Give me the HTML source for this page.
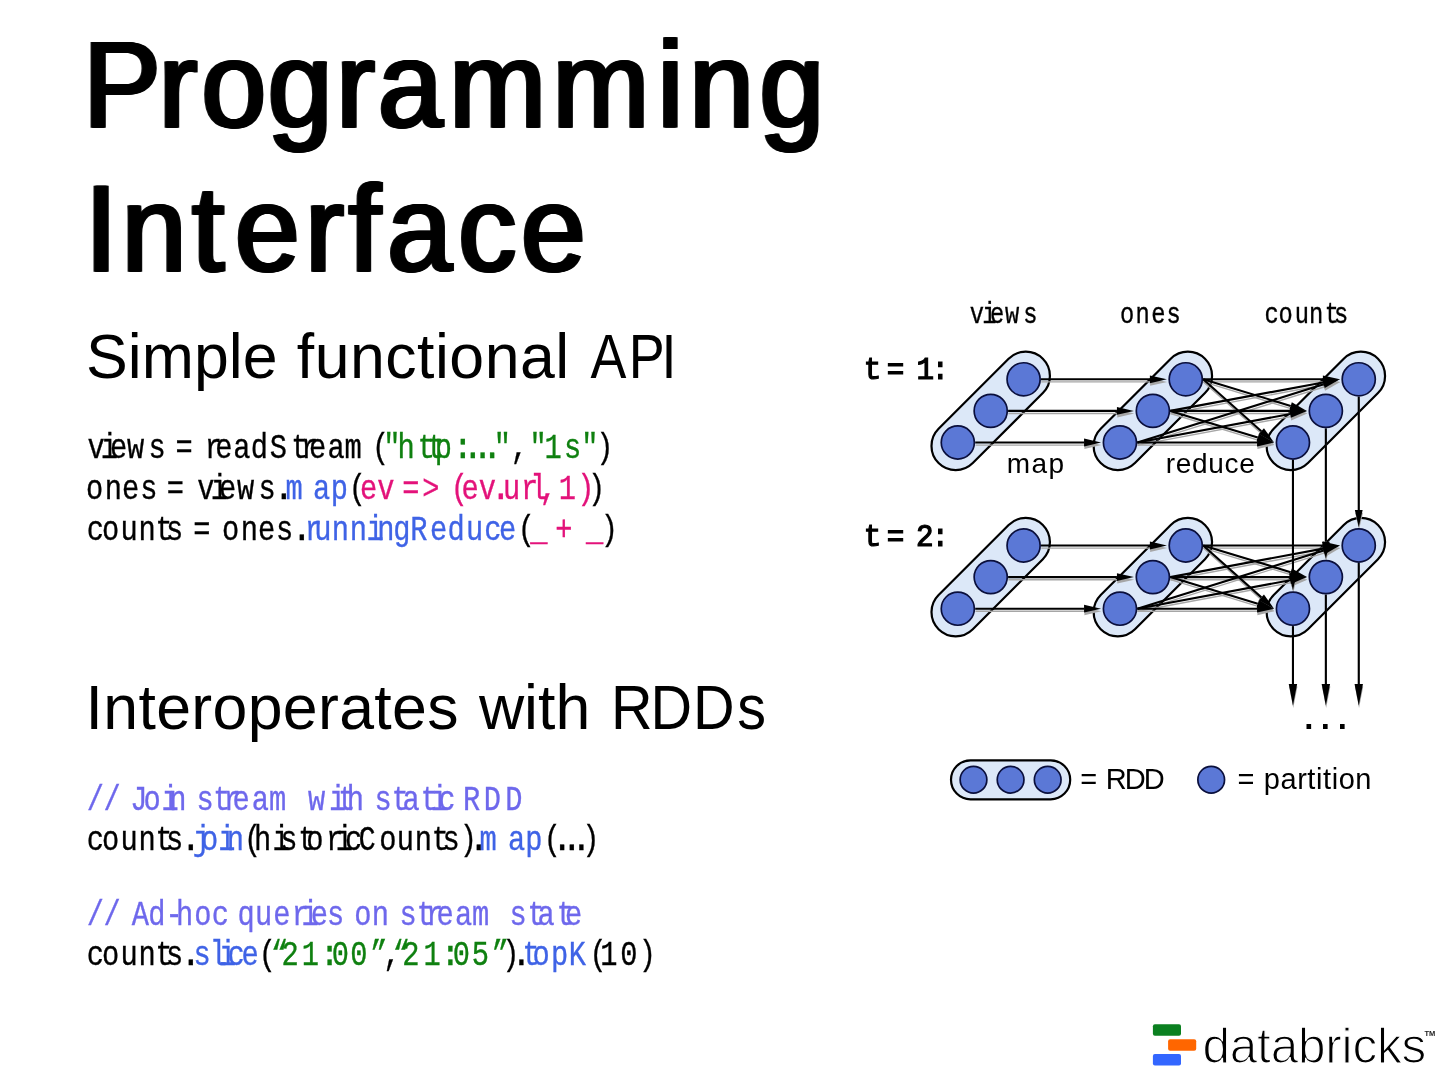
<!DOCTYPE html>
<html lang="en">
<head>
<meta charset="utf-8">
<title>Programming Interface</title>
<style>
html,body{margin:0;padding:0;background:#fff;}
body{width:1440px;height:1080px;overflow:hidden;position:relative;font-family:"Liberation Sans",sans-serif;}
svg{position:absolute;left:0;top:0;display:block;will-change:transform;transform:translateZ(0);}
text{white-space:pre;}
.ttl{filter:drop-shadow(1.2px 0 0 #000) drop-shadow(-1.2px 0 0 #000);}
</style>
</head>
<body>
<svg width="1440" height="1080" viewBox="0 0 1440 1080">
<text class="ttl" transform="scale(0.95,1)" x="88.07 167.62 212.70 282.44 354.46 398.39 473.40 582.09 692.56 726.04 800.00" y="127.3" font-size="122.3" stroke="#000" stroke-width="1.5" font-family="'Liberation Sans',sans-serif">Programming</text>
<text class="ttl" transform="scale(0.95,1)" x="89.98 128.67 202.66 247.95 321.83 367.32 408.13 482.91 549.01" y="271.3" font-size="122.3" stroke="#000" stroke-width="1.5" font-family="'Liberation Sans',sans-serif">Interface</text>
<text xml:space="preserve" x="86.06 127.83 141.75 193.91 228.74 242.67 277.50 296.81 314.69 350.00 385.30 417.09 434.97 449.37 484.67 519.98 555.28" y="378.1" font-size="62.6" fill="#000" font-family="'Liberation Sans',sans-serif">Simple functional</text>
<text transform="scale(0.86,1)" x="686.62 731.26 769.22" y="378.1" font-size="62.6" fill="#000" font-family="'Liberation Sans',sans-serif">API</text>
<text xml:space="preserve" x="85.62 103.35 138.49 156.21 191.36 212.54 247.68 282.83 317.97 339.15 374.29 392.02 427.16 458.79 478.89 524.12 538.04 555.45" y="729.4" font-size="62.6" fill="#000" font-family="'Liberation Sans',sans-serif">Interoperates with</text>
<text transform="scale(0.92,1)" x="664.10 707.04 753.23 801.41" y="729.4" font-size="62.6" fill="#000" font-family="'Liberation Sans',sans-serif">RDDs</text>
<text xml:space="preserve" transform="scale(0.82,1)" y="458.0" font-size="35.0" stroke-width="0.35" font-family="'Liberation Mono',monospace"><tspan x="106.67 122.85 134.16 154.99 181.23 200.98 214.05 237.13 249.76 262.57 284.61 305.78 329.06 355.27 367.08 376.96 399.49 420.26 453.74" fill="#000" stroke="#000">views = readStream(</tspan><tspan x="467.44 484.87 509.54 521.37 530.08" fill="#0f8010" stroke="#0f8010">"http</tspan><tspan x="554.11 566.31 578.14 589.72" fill="#0f8010" stroke="#0f8010" font-weight="bold">:...</tspan><tspan x="602.20" fill="#0f8010" stroke="#0f8010">"</tspan><tspan x="622.82 633.80" fill="#000" stroke="#000">, </tspan><tspan x="645.85 663.98 687.94 708.90" fill="#0f8010" stroke="#0f8010">"1s"</tspan><tspan x="727.12" fill="#000" stroke="#000">)</tspan></text>
<text xml:space="preserve" transform="scale(0.82,1)" y="498.9" font-size="35.0" stroke-width="0.35" font-family="'Liberation Mono',monospace"><tspan x="104.73 127.64 148.79 171.11 190.86 203.44 226.52 240.45 256.99 267.21 288.89 315.37" fill="#000" stroke="#000">ones = views</tspan><tspan x="335.70" fill="#000" stroke="#000" font-weight="bold">.</tspan><tspan x="348.19 381.81 403.25" fill="#3f63e6" stroke="#3f63e6">map</tspan><tspan x="425.20" fill="#000" stroke="#000">(</tspan><tspan x="439.04 459.96 479.72 490.52 514.91 537.98 549.59 562.94 583.99" fill="#e3127a" stroke="#e3127a">ev =&gt; (ev</tspan><tspan x="600.33" fill="#e3127a" stroke="#e3127a" font-weight="bold">.</tspan><tspan x="613.28 635.37 646.71 658.31 669.29 681.54 703.83" fill="#e3127a" stroke="#e3127a">url, 1)</tspan><tspan x="717.00" fill="#000" stroke="#000">)</tspan></text>
<text xml:space="preserve" transform="scale(0.82,1)" y="539.8000000000001" font-size="35.0" stroke-width="0.35" font-family="'Liberation Mono',monospace"><tspan x="105.71 124.49 147.06 168.86 189.66 202.57 222.33 235.64 258.71 270.83 293.49 314.65 336.72" fill="#000" stroke="#000">counts = ones</tspan><tspan x="357.65" fill="#000" stroke="#000" font-weight="bold">.</tspan><tspan x="371.71 383.28 404.71 426.66 446.99 460.20 479.47 500.46 524.40 545.66 568.16 590.46 608.67" fill="#3f63e6" stroke="#3f63e6">runningReduce</tspan><tspan x="631.55" fill="#000" stroke="#000">(</tspan><tspan x="646.64 668.62 677.10 700.18 714.69" fill="#e3127a" stroke="#e3127a">_ + _</tspan><tspan x="732.61" fill="#000" stroke="#000">)</tspan></text>
<text xml:space="preserve" transform="scale(0.82,1)" y="809.9000000000001" font-size="35.0" stroke-width="0.35" font-family="'Liberation Mono',monospace"><tspan x="105.88 126.25 137.23 158.82 174.86 196.99 206.54 228.52 239.64 260.15 272.56 283.55 306.93 328.19 361.10 375.47 401.26 412.59 422.92 444.89 456.72 477.71 490.95 513.20 525.29 534.61 554.37 564.49 589.85 616.32" fill="#6e68ec" stroke="#6e68ec">// Join stream with static RDD</tspan></text>
<text xml:space="preserve" transform="scale(0.82,1)" y="849.9000000000001" font-size="35.0" stroke-width="0.35" font-family="'Liberation Mono',monospace"><tspan x="105.71 124.49 147.06 168.86 189.66 202.57" fill="#000" stroke="#000">counts</tspan><tspan x="222.29" fill="#000" stroke="#000" font-weight="bold">.</tspan><tspan x="235.10 244.98 266.14 276.66" fill="#3f63e6" stroke="#3f63e6">join</tspan><tspan x="297.64 309.62 332.24 341.84 363.81 373.64 397.56 409.43 420.83 437.31 462.42 483.89 505.69 526.49 539.64 560.54" fill="#000" stroke="#000">(historicCounts)</tspan><tspan x="573.50" fill="#000" stroke="#000" font-weight="bold">.</tspan><tspan x="584.89 619.37 640.44" fill="#3f63e6" stroke="#3f63e6">map</tspan><tspan x="663.01" fill="#000" stroke="#000">(</tspan><tspan x="675.09 686.92 698.50" fill="#000" stroke="#000" font-weight="bold">...</tspan><tspan x="709.93" fill="#000" stroke="#000">)</tspan></text>
<text xml:space="preserve" transform="scale(0.82,1)" y="925.0" font-size="35.0" stroke-width="0.35" font-family="'Liberation Mono',monospace"><tspan x="105.88 126.25 137.23 160.82 180.78 201.84 214.50 236.81 258.15 277.90 289.56 311.09 333.30 355.86 367.73 379.04 398.79 418.55 431.93 453.49 475.47 487.20 508.20 519.52 532.45 554.98 575.75 608.66 621.35 643.32 655.59 678.93 689.04" fill="#6e68ec" stroke="#6e68ec">// Ad-hoc queries on stream state</tspan></text>
<text xml:space="preserve" transform="scale(0.82,1)" y="965.5" font-size="35.0" stroke-width="0.35" font-family="'Liberation Mono',monospace"><tspan x="105.71 124.49 147.06 168.86 189.66 202.57" fill="#000" stroke="#000">counts</tspan><tspan x="222.29" fill="#000" stroke="#000" font-weight="bold">.</tspan><tspan x="236.11 255.85 267.12 277.54 294.65" fill="#3f63e6" stroke="#3f63e6">slice</tspan><tspan x="315.45" fill="#000" stroke="#000">(</tspan><tspan x="330.44 343.25 368.06" fill="#0f8010" stroke="#0f8010">“21</tspan><tspan x="391.55" fill="#0f8010" stroke="#0f8010" font-weight="bold">:</tspan><tspan x="404.58 427.02 451.42" fill="#0f8010" stroke="#0f8010">00”</tspan><tspan x="467.34" fill="#000" stroke="#000">,</tspan><tspan x="478.86 490.69 516.42" fill="#0f8010" stroke="#0f8010">“21</tspan><tspan x="538.87" fill="#0f8010" stroke="#0f8010" font-weight="bold">:</tspan><tspan x="552.02 575.22 599.83" fill="#0f8010" stroke="#0f8010">05”</tspan><tspan x="612.37" fill="#000" stroke="#000">)</tspan><tspan x="625.33" fill="#000" stroke="#000" font-weight="bold">.</tspan><tspan x="637.22 649.49 671.91 693.51" fill="#3f63e6" stroke="#3f63e6">topK</tspan><tspan x="718.99 731.90 756.28 778.95" fill="#000" stroke="#000">(10)</tspan></text>
<g>
<rect x="-73.72" y="-24.20" width="147.44" height="48.40" rx="24.20" transform="translate(990.70,410.90) rotate(135.00)" fill="#dce8f8" stroke="#000" stroke-width="2.2"/>
<rect x="-73.72" y="-24.20" width="147.44" height="48.40" rx="24.20" transform="translate(1152.85,410.90) rotate(135.00)" fill="#dce8f8" stroke="#000" stroke-width="2.2"/>
<rect x="-73.72" y="-24.20" width="147.44" height="48.40" rx="24.20" transform="translate(1325.85,410.90) rotate(135.00)" fill="#dce8f8" stroke="#000" stroke-width="2.2"/>
<rect x="-73.72" y="-24.20" width="147.44" height="48.40" rx="24.20" transform="translate(990.70,577.10) rotate(135.00)" fill="#dce8f8" stroke="#000" stroke-width="2.2"/>
<rect x="-73.72" y="-24.20" width="147.44" height="48.40" rx="24.20" transform="translate(1152.85,577.10) rotate(135.00)" fill="#dce8f8" stroke="#000" stroke-width="2.2"/>
<rect x="-73.72" y="-24.20" width="147.44" height="48.40" rx="24.20" transform="translate(1325.85,577.10) rotate(135.00)" fill="#dce8f8" stroke="#000" stroke-width="2.2"/>
<line x1="1041.30" y1="381.90" x2="1150.15" y2="381.90" stroke="#a6a6a6" stroke-width="1.4"/><polygon points="1167.15,381.90 1150.15,385.80 1150.15,378.00" fill="#a6a6a6"/>
<line x1="1008.40" y1="413.50" x2="1117.25" y2="413.50" stroke="#a6a6a6" stroke-width="1.4"/><polygon points="1134.25,413.50 1117.25,417.40 1117.25,409.60" fill="#a6a6a6"/>
<line x1="975.50" y1="445.10" x2="1084.35" y2="445.10" stroke="#a6a6a6" stroke-width="1.4"/><polygon points="1101.35,445.10 1084.35,449.00 1084.35,441.20" fill="#a6a6a6"/>
<line x1="1203.45" y1="381.90" x2="1323.15" y2="381.90" stroke="#a6a6a6" stroke-width="1.4"/><polygon points="1340.15,381.90 1323.15,385.80 1323.15,378.00" fill="#a6a6a6"/>
<line x1="1203.45" y1="381.90" x2="1290.99" y2="408.55" stroke="#a6a6a6" stroke-width="1.4"/><polygon points="1307.25,413.50 1289.85,412.28 1292.12,404.82" fill="#a6a6a6"/>
<line x1="1203.45" y1="381.90" x2="1261.66" y2="433.79" stroke="#a6a6a6" stroke-width="1.4"/><polygon points="1274.35,445.10 1259.06,436.70 1264.25,430.88" fill="#a6a6a6"/>
<line x1="1170.55" y1="413.50" x2="1323.44" y2="385.01" stroke="#a6a6a6" stroke-width="1.4"/><polygon points="1340.15,381.90 1324.15,388.85 1322.72,381.18" fill="#a6a6a6"/>
<line x1="1170.55" y1="413.50" x2="1290.25" y2="413.50" stroke="#a6a6a6" stroke-width="1.4"/><polygon points="1307.25,413.50 1290.25,417.40 1290.25,409.60" fill="#a6a6a6"/>
<line x1="1170.55" y1="413.50" x2="1258.09" y2="440.15" stroke="#a6a6a6" stroke-width="1.4"/><polygon points="1274.35,445.10 1256.95,443.88 1259.22,436.42" fill="#a6a6a6"/>
<line x1="1137.65" y1="445.10" x2="1323.92" y2="386.96" stroke="#a6a6a6" stroke-width="1.4"/><polygon points="1340.15,381.90 1325.08,390.69 1322.76,383.24" fill="#a6a6a6"/>
<line x1="1137.65" y1="445.10" x2="1290.54" y2="416.61" stroke="#a6a6a6" stroke-width="1.4"/><polygon points="1307.25,413.50 1291.25,420.45 1289.82,412.78" fill="#a6a6a6"/>
<line x1="1137.65" y1="445.10" x2="1257.35" y2="445.10" stroke="#a6a6a6" stroke-width="1.4"/><polygon points="1274.35,445.10 1257.35,449.00 1257.35,441.20" fill="#a6a6a6"/>
<line x1="1041.30" y1="548.10" x2="1150.15" y2="548.10" stroke="#a6a6a6" stroke-width="1.4"/><polygon points="1167.15,548.10 1150.15,552.00 1150.15,544.20" fill="#a6a6a6"/>
<line x1="1008.40" y1="579.70" x2="1117.25" y2="579.70" stroke="#a6a6a6" stroke-width="1.4"/><polygon points="1134.25,579.70 1117.25,583.60 1117.25,575.80" fill="#a6a6a6"/>
<line x1="975.50" y1="611.30" x2="1084.35" y2="611.30" stroke="#a6a6a6" stroke-width="1.4"/><polygon points="1101.35,611.30 1084.35,615.20 1084.35,607.40" fill="#a6a6a6"/>
<line x1="1203.45" y1="548.10" x2="1323.15" y2="548.10" stroke="#a6a6a6" stroke-width="1.4"/><polygon points="1340.15,548.10 1323.15,552.00 1323.15,544.20" fill="#a6a6a6"/>
<line x1="1203.45" y1="548.10" x2="1290.99" y2="574.75" stroke="#a6a6a6" stroke-width="1.4"/><polygon points="1307.25,579.70 1289.85,578.48 1292.12,571.02" fill="#a6a6a6"/>
<line x1="1203.45" y1="548.10" x2="1261.66" y2="599.99" stroke="#a6a6a6" stroke-width="1.4"/><polygon points="1274.35,611.30 1259.06,602.90 1264.25,597.08" fill="#a6a6a6"/>
<line x1="1170.55" y1="579.70" x2="1323.44" y2="551.21" stroke="#a6a6a6" stroke-width="1.4"/><polygon points="1340.15,548.10 1324.15,555.05 1322.72,547.38" fill="#a6a6a6"/>
<line x1="1170.55" y1="579.70" x2="1290.25" y2="579.70" stroke="#a6a6a6" stroke-width="1.4"/><polygon points="1307.25,579.70 1290.25,583.60 1290.25,575.80" fill="#a6a6a6"/>
<line x1="1170.55" y1="579.70" x2="1258.09" y2="606.35" stroke="#a6a6a6" stroke-width="1.4"/><polygon points="1274.35,611.30 1256.95,610.08 1259.22,602.62" fill="#a6a6a6"/>
<line x1="1137.65" y1="611.30" x2="1323.92" y2="553.16" stroke="#a6a6a6" stroke-width="1.4"/><polygon points="1340.15,548.10 1325.08,556.89 1322.76,549.44" fill="#a6a6a6"/>
<line x1="1137.65" y1="611.30" x2="1290.54" y2="582.81" stroke="#a6a6a6" stroke-width="1.4"/><polygon points="1307.25,579.70 1291.25,586.65 1289.82,578.98" fill="#a6a6a6"/>
<line x1="1137.65" y1="611.30" x2="1257.35" y2="611.30" stroke="#a6a6a6" stroke-width="1.4"/><polygon points="1274.35,611.30 1257.35,615.20 1257.35,607.40" fill="#a6a6a6"/>
<line x1="1359.05" y1="399.30" x2="1359.05" y2="512.70" stroke="#a6a6a6" stroke-width="1.4"/><polygon points="1359.05,529.70 1355.15,512.70 1362.95,512.70" fill="#a6a6a6"/>
<line x1="1359.05" y1="565.50" x2="1359.05" y2="686.60" stroke="#a6a6a6" stroke-width="1.4"/><polygon points="1359.05,708.10 1354.85,686.60 1363.25,686.60" fill="#a6a6a6"/>
<line x1="1326.15" y1="430.90" x2="1326.15" y2="544.30" stroke="#a6a6a6" stroke-width="1.4"/><polygon points="1326.15,561.30 1322.25,544.30 1330.05,544.30" fill="#a6a6a6"/>
<line x1="1326.15" y1="597.10" x2="1326.15" y2="686.60" stroke="#a6a6a6" stroke-width="1.4"/><polygon points="1326.15,708.10 1321.95,686.60 1330.35,686.60" fill="#a6a6a6"/>
<line x1="1293.25" y1="462.50" x2="1293.25" y2="575.90" stroke="#a6a6a6" stroke-width="1.4"/><polygon points="1293.25,592.90 1289.35,575.90 1297.15,575.90" fill="#a6a6a6"/>
<line x1="1293.25" y1="628.70" x2="1293.25" y2="686.60" stroke="#a6a6a6" stroke-width="1.4"/><polygon points="1293.25,708.10 1289.05,686.60 1297.45,686.60" fill="#a6a6a6"/>
<line x1="1041.00" y1="379.30" x2="1149.85" y2="379.30" stroke="#000" stroke-width="2.1"/><polygon points="1166.85,379.30 1149.85,383.20 1149.85,375.40" fill="#000"/>
<line x1="1008.10" y1="410.90" x2="1116.95" y2="410.90" stroke="#000" stroke-width="2.1"/><polygon points="1133.95,410.90 1116.95,414.80 1116.95,407.00" fill="#000"/>
<line x1="975.20" y1="442.50" x2="1084.05" y2="442.50" stroke="#000" stroke-width="2.1"/><polygon points="1101.05,442.50 1084.05,446.40 1084.05,438.60" fill="#000"/>
<line x1="1203.15" y1="379.30" x2="1322.85" y2="379.30" stroke="#000" stroke-width="2.1"/><polygon points="1339.85,379.30 1322.85,383.20 1322.85,375.40" fill="#000"/>
<line x1="1203.15" y1="379.30" x2="1290.69" y2="405.95" stroke="#000" stroke-width="2.1"/><polygon points="1306.95,410.90 1289.55,409.68 1291.82,402.22" fill="#000"/>
<line x1="1203.15" y1="379.30" x2="1261.36" y2="431.19" stroke="#000" stroke-width="2.1"/><polygon points="1274.05,442.50 1258.76,434.10 1263.95,428.28" fill="#000"/>
<line x1="1170.25" y1="410.90" x2="1323.14" y2="382.41" stroke="#000" stroke-width="2.1"/><polygon points="1339.85,379.30 1323.85,386.25 1322.42,378.58" fill="#000"/>
<line x1="1170.25" y1="410.90" x2="1289.95" y2="410.90" stroke="#000" stroke-width="2.1"/><polygon points="1306.95,410.90 1289.95,414.80 1289.95,407.00" fill="#000"/>
<line x1="1170.25" y1="410.90" x2="1257.79" y2="437.55" stroke="#000" stroke-width="2.1"/><polygon points="1274.05,442.50 1256.65,441.28 1258.92,433.82" fill="#000"/>
<line x1="1137.35" y1="442.50" x2="1323.62" y2="384.36" stroke="#000" stroke-width="2.1"/><polygon points="1339.85,379.30 1324.78,388.09 1322.46,380.64" fill="#000"/>
<line x1="1137.35" y1="442.50" x2="1290.24" y2="414.01" stroke="#000" stroke-width="2.1"/><polygon points="1306.95,410.90 1290.95,417.85 1289.52,410.18" fill="#000"/>
<line x1="1137.35" y1="442.50" x2="1257.05" y2="442.50" stroke="#000" stroke-width="2.1"/><polygon points="1274.05,442.50 1257.05,446.40 1257.05,438.60" fill="#000"/>
<line x1="1041.00" y1="545.50" x2="1149.85" y2="545.50" stroke="#000" stroke-width="2.1"/><polygon points="1166.85,545.50 1149.85,549.40 1149.85,541.60" fill="#000"/>
<line x1="1008.10" y1="577.10" x2="1116.95" y2="577.10" stroke="#000" stroke-width="2.1"/><polygon points="1133.95,577.10 1116.95,581.00 1116.95,573.20" fill="#000"/>
<line x1="975.20" y1="608.70" x2="1084.05" y2="608.70" stroke="#000" stroke-width="2.1"/><polygon points="1101.05,608.70 1084.05,612.60 1084.05,604.80" fill="#000"/>
<line x1="1203.15" y1="545.50" x2="1322.85" y2="545.50" stroke="#000" stroke-width="2.1"/><polygon points="1339.85,545.50 1322.85,549.40 1322.85,541.60" fill="#000"/>
<line x1="1203.15" y1="545.50" x2="1290.69" y2="572.15" stroke="#000" stroke-width="2.1"/><polygon points="1306.95,577.10 1289.55,575.88 1291.82,568.42" fill="#000"/>
<line x1="1203.15" y1="545.50" x2="1261.36" y2="597.39" stroke="#000" stroke-width="2.1"/><polygon points="1274.05,608.70 1258.76,600.30 1263.95,594.48" fill="#000"/>
<line x1="1170.25" y1="577.10" x2="1323.14" y2="548.61" stroke="#000" stroke-width="2.1"/><polygon points="1339.85,545.50 1323.85,552.45 1322.42,544.78" fill="#000"/>
<line x1="1170.25" y1="577.10" x2="1289.95" y2="577.10" stroke="#000" stroke-width="2.1"/><polygon points="1306.95,577.10 1289.95,581.00 1289.95,573.20" fill="#000"/>
<line x1="1170.25" y1="577.10" x2="1257.79" y2="603.75" stroke="#000" stroke-width="2.1"/><polygon points="1274.05,608.70 1256.65,607.48 1258.92,600.02" fill="#000"/>
<line x1="1137.35" y1="608.70" x2="1323.62" y2="550.56" stroke="#000" stroke-width="2.1"/><polygon points="1339.85,545.50 1324.78,554.29 1322.46,546.84" fill="#000"/>
<line x1="1137.35" y1="608.70" x2="1290.24" y2="580.21" stroke="#000" stroke-width="2.1"/><polygon points="1306.95,577.10 1290.95,584.05 1289.52,576.38" fill="#000"/>
<line x1="1137.35" y1="608.70" x2="1257.05" y2="608.70" stroke="#000" stroke-width="2.1"/><polygon points="1274.05,608.70 1257.05,612.60 1257.05,604.80" fill="#000"/>
<line x1="1358.75" y1="396.70" x2="1358.75" y2="510.10" stroke="#000" stroke-width="2.1"/><polygon points="1358.75,527.10 1354.85,510.10 1362.65,510.10" fill="#000"/>
<line x1="1358.75" y1="562.90" x2="1358.75" y2="684.00" stroke="#000" stroke-width="2.1"/><polygon points="1358.75,705.50 1354.55,684.00 1362.95,684.00" fill="#000"/>
<line x1="1325.85" y1="428.30" x2="1325.85" y2="541.70" stroke="#000" stroke-width="2.1"/><polygon points="1325.85,558.70 1321.95,541.70 1329.75,541.70" fill="#000"/>
<line x1="1325.85" y1="594.50" x2="1325.85" y2="684.00" stroke="#000" stroke-width="2.1"/><polygon points="1325.85,705.50 1321.65,684.00 1330.05,684.00" fill="#000"/>
<line x1="1292.95" y1="459.90" x2="1292.95" y2="573.30" stroke="#000" stroke-width="2.1"/><polygon points="1292.95,590.30 1289.05,573.30 1296.85,573.30" fill="#000"/>
<line x1="1292.95" y1="626.10" x2="1292.95" y2="684.00" stroke="#000" stroke-width="2.1"/><polygon points="1292.95,705.50 1288.75,684.00 1297.15,684.00" fill="#000"/>
<circle cx="1023.60" cy="379.30" r="16.55" fill="#5b78d6" stroke="#0a0f3c" stroke-width="1.7"/>
<circle cx="990.70" cy="410.90" r="16.55" fill="#5b78d6" stroke="#0a0f3c" stroke-width="1.7"/>
<circle cx="957.80" cy="442.50" r="16.55" fill="#5b78d6" stroke="#0a0f3c" stroke-width="1.7"/>
<circle cx="1185.75" cy="379.30" r="16.55" fill="#5b78d6" stroke="#0a0f3c" stroke-width="1.7"/>
<circle cx="1152.85" cy="410.90" r="16.55" fill="#5b78d6" stroke="#0a0f3c" stroke-width="1.7"/>
<circle cx="1119.95" cy="442.50" r="16.55" fill="#5b78d6" stroke="#0a0f3c" stroke-width="1.7"/>
<circle cx="1358.75" cy="379.30" r="16.55" fill="#5b78d6" stroke="#0a0f3c" stroke-width="1.7"/>
<circle cx="1325.85" cy="410.90" r="16.55" fill="#5b78d6" stroke="#0a0f3c" stroke-width="1.7"/>
<circle cx="1292.95" cy="442.50" r="16.55" fill="#5b78d6" stroke="#0a0f3c" stroke-width="1.7"/>
<circle cx="1023.60" cy="545.50" r="16.55" fill="#5b78d6" stroke="#0a0f3c" stroke-width="1.7"/>
<circle cx="990.70" cy="577.10" r="16.55" fill="#5b78d6" stroke="#0a0f3c" stroke-width="1.7"/>
<circle cx="957.80" cy="608.70" r="16.55" fill="#5b78d6" stroke="#0a0f3c" stroke-width="1.7"/>
<circle cx="1185.75" cy="545.50" r="16.55" fill="#5b78d6" stroke="#0a0f3c" stroke-width="1.7"/>
<circle cx="1152.85" cy="577.10" r="16.55" fill="#5b78d6" stroke="#0a0f3c" stroke-width="1.7"/>
<circle cx="1119.95" cy="608.70" r="16.55" fill="#5b78d6" stroke="#0a0f3c" stroke-width="1.7"/>
<circle cx="1358.75" cy="545.50" r="16.55" fill="#5b78d6" stroke="#0a0f3c" stroke-width="1.7"/>
<circle cx="1325.85" cy="577.10" r="16.55" fill="#5b78d6" stroke="#0a0f3c" stroke-width="1.7"/>
<circle cx="1292.95" cy="608.70" r="16.55" fill="#5b78d6" stroke="#0a0f3c" stroke-width="1.7"/>
</g>
<text xml:space="preserve" transform="scale(0.82,1)" y="323.3" font-size="29.0" stroke-width="0.35" font-family="'Liberation Mono',monospace"><tspan x="1182.49 1197.79 1207.47 1225.53 1247.82" fill="#000" stroke="#000">views</tspan></text>
<text xml:space="preserve" transform="scale(0.82,1)" y="323.3" font-size="29.0" stroke-width="0.35" font-family="'Liberation Mono',monospace"><tspan x="1365.84 1384.87 1403.82 1422.58" fill="#000" stroke="#000">ones</tspan></text>
<text xml:space="preserve" transform="scale(0.82,1)" y="323.3" font-size="29.0" stroke-width="0.35" font-family="'Liberation Mono',monospace"><tspan x="1542.06 1559.01 1578.94 1596.21 1615.46 1626.85" fill="#000" stroke="#000">counts</tspan></text>
<text xml:space="preserve" transform="scale(0.96,1)" y="379.3" font-size="30.5" stroke-width="1.2" font-family="'Liberation Mono',monospace"><tspan x="899.68 910.10 923.77 945.67 954.78 970.21" fill="#000" stroke="#000">t = 1:</tspan></text>
<text xml:space="preserve" transform="scale(0.96,1)" y="546.1" font-size="30.5" stroke-width="1.2" font-family="'Liberation Mono',monospace"><tspan x="899.68 910.10 923.77 945.67 954.12 970.21" fill="#000" stroke="#000">t = 2:</tspan></text>
<text x="1006.64" y="472.8" font-size="28" letter-spacing="1.533" fill="#000" font-family="'Liberation Sans',sans-serif">map</text>
<text x="1165.64" y="472.8" font-size="28" letter-spacing="0.738" fill="#000" font-family="'Liberation Sans',sans-serif">reduce</text>
<text x="1304.16 1320.86 1337.76" y="729" font-size="33" font-weight="bold" font-family="'Liberation Sans',sans-serif">...</text>
<rect x="-59.60" y="-19.50" width="119.20" height="39.00" rx="19.50" transform="translate(1010.60,779.80) rotate(0.00)" fill="#dce8f8" stroke="#000" stroke-width="2.2"/>
<circle cx="973.50" cy="779.70" r="13.35" fill="#5b78d6" stroke="#0a0f3c" stroke-width="1.7"/>
<circle cx="1010.60" cy="779.70" r="13.35" fill="#5b78d6" stroke="#0a0f3c" stroke-width="1.7"/>
<circle cx="1047.70" cy="779.70" r="13.35" fill="#5b78d6" stroke="#0a0f3c" stroke-width="1.7"/>
<circle cx="1211.20" cy="779.70" r="13.35" fill="#5b78d6" stroke="#0a0f3c" stroke-width="1.7"/>
<text xml:space="preserve" x="1080.24 1097.17 1105.82 1124.78 1143.74" y="789" font-size="29" fill="#000" font-family="'Liberation Sans',sans-serif">= RDD</text>
<text xml:space="preserve" x="1237.44 1254.37 1263.73 1280.43 1297.13 1307.36 1315.99 1323.01 1331.64 1338.65 1355.35" y="789" font-size="29" fill="#000" font-family="'Liberation Sans',sans-serif">= partition</text>
<rect x="1152.9" y="1024.2" width="28.1" height="11.5" rx="2" fill="#0b8020"/>
<rect x="1168.1" y="1039.2" width="28.1" height="11.5" rx="2" fill="#ff6600"/>
<rect x="1152.9" y="1054.1" width="28.1" height="11.5" rx="2" fill="#3366ff"/>
<text x="1202.42" y="1062.9" font-size="49.5" letter-spacing="-0.193" fill="#000" font-family="'Liberation Sans',sans-serif" stroke="#fff" stroke-width="1.25">databricks</text>
<text x="1424.5" y="1036" font-size="7.5" font-weight="bold" font-family="'Liberation Sans',sans-serif" fill="#222">TM</text>
</svg>
</body>
</html>
